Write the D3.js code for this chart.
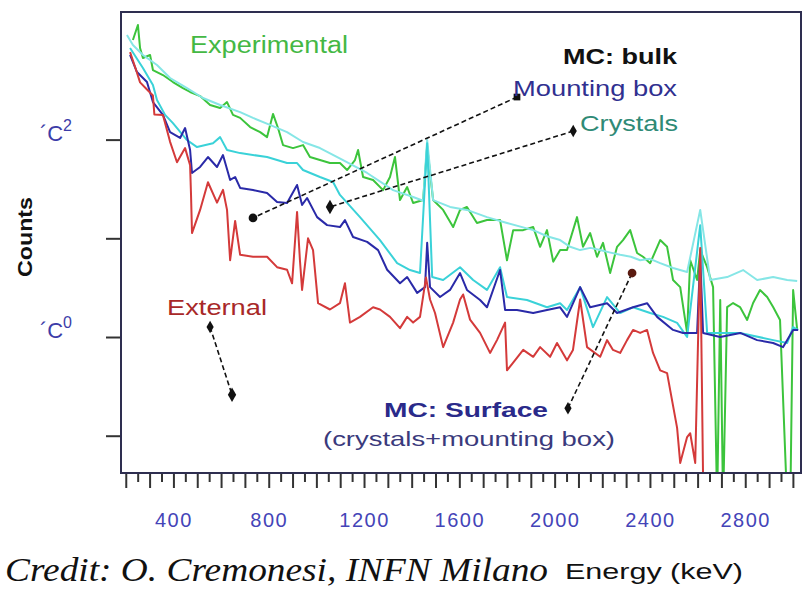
<!DOCTYPE html>
<html>
<head>
<meta charset="utf-8">
<script src="https://cdn.jsdelivr.net/npm/d3@7"></script>
<style>
  body { margin: 0; background: #fff; }
  svg { display: block; font-family: "Liberation Sans", Arial, sans-serif; }
</style>
</head>
<body>
<svg id="chart" width="803" height="590"></svg>
<script>
// energy (keV), counts
const experimental = [[230,1021],[251,1449],[260,847],[272,671],[302,720],[314,507],[356,451],[398,383],[440,333],[470,304],[512,276],[554,224],[596,209],[625,240],[650,178],[680,166],[722,134],[764,119],[793,106],[818,182],[839,131],[860,88],[902,82],[944,88],[973,66.6],[1015,62.1],[1057,57.9],[1099,57.9],[1129,49.2],[1162,62.1],[1175,78.5],[1196,41.8],[1238,39],[1280,30.8],[1309,41.8],[1330,66.6],[1351,24.4],[1381,33.1],[1406,22.8],[1448,24.4],[1465,85],[1490,24.4],[1532,19.4],[1574,13.0],[1603,19.4],[1632,20.8],[1674,14.3],[1716,15.3],[1771,15.3],[1800,6.0],[1826,12.1],[1868,12.1],[1910,13.0],[1939,8.2],[1968,12.1],[1994,5.8],[2023,7.6],[2052,7.6],[2094,16.4],[2119,8.2],[2149,11.3],[2178,6.5],[2203,9.0],[2233,4.45],[2262,8.2],[2287,9.6],[2317,12.1],[2346,7.1],[2371,6.5],[2401,5.6],[2443,9.6],[2472,8.2],[2497,3.78],[2527,3.2],[2556,1.1],[2569,6.0],[2598,3.78],[2611,7.6],[2640,5.1],[2665,3.2],[2682,0.02],[2695,2.37],[2707,0.02],[2724,2.01],[2749,2.21],[2778,2.01],[2808,1.49],[2833,2.21],[2862,2.99],[2892,2.54],[2917,2.01],[2946,1.49],[2976,0.02],[2989,0.02],[3001,2.99],[3018,1.18]];

const mcTotal = [[205,1148],[230,908],[272,720],[331,570],[386,421],[457,333],[524,264],[596,224],[680,190],[734,166],[805,141],[877,119],[944,94.6],[1015,82.2],[1112,62.1],[1213,45.9],[1322,30.8],[1406,26.2],[1448,24],[1465,99],[1490,24.4],[1561,20.8],[1632,19.4],[1716,16.4],[1800,14.3],[1910,12.1],[1968,10.5],[2023,9.6],[2065,8.2],[2107,7.6],[2150,8.0],[2191,7.6],[2230,7.2],[2275,6.8],[2320,6.5],[2359,6.0],[2400,6.2],[2443,5.6],[2497,5.0],[2556,4.56],[2611,19.4],[2653,3.78],[2724,4.05],[2791,4.77],[2850,3.78],[2917,4.05],[2976,3.78],[3018,3.69]];

const crystals = [[218,847],[272,531],[314,357],[331,252],[365,178],[398,147],[457,99],[499,84],[566,92],[596,106],[625,78.5],[680,73],[793,66.6],[877,57.9],[919,57.9],[944,49.2],[1015,41.8],[1070,37.2],[1099,27.5],[1183,16.4],[1267,9.6],[1339,5.6],[1393,4.77],[1435,4.45],[1465,92],[1486,4.05],[1532,3.78],[1603,5.1],[1658,3.78],[1716,3.0],[1771,5.1],[1800,2.54],[1884,2.37],[1968,2.0],[2023,2.2],[2052,1.88],[2107,3.2],[2161,1.26],[2220,2.54],[2275,1.75],[2329,2.0],[2401,1.75],[2455,1.6],[2514,1.39],[2556,1.0],[2611,13.6],[2640,1.1],[2778,1.1],[2917,0.93],[2976,0.87],[3001,1.26],[3022,1.18]];

const mountingBox = [[218,720],[247,484],[289,383],[314,240],[356,178],[386,119],[428,104],[449,131],[470,78.5],[478,45.9],[512,52.8],[545,66.6],[583,52.8],[608,69.8],[638,39.0],[659,41.8],[680,32.4],[734,30.8],[793,28.8],[835,23.3],[877,22.8],[919,34.7],[940,21.8],[961,25.6],[1003,16.4],[1045,13.6],[1099,13.0],[1120,15.3],[1154,10.3],[1213,9.2],[1259,7.6],[1297,4.8],[1351,3.5],[1381,4.05],[1423,2.8],[1456,3.2],[1465,9.0],[1477,3.2],[1519,2.54],[1561,3.0],[1603,4.45],[1632,3.0],[1687,2.37],[1716,2.0],[1771,4.77],[1792,1.88],[1842,1.88],[1910,1.75],[1968,1.88],[2023,2.0],[2052,1.6],[2107,3.2],[2149,2.0],[2220,2.2],[2262,1.75],[2329,2.0],[2388,2.2],[2430,1.6],[2497,1.18],[2539,1.1],[2598,1.1],[2611,6.5],[2623,1.1],[2695,1.0],[2779,1.1],[2850,0.93],[2917,0.87],[2959,0.79],[3001,1.18],[3022,1.18]];

const external = [[218,770],[243,510],[260,380],[285,330],[314,280],[320,180],[356,178],[386,95],[415,59],[449,82],[470,55],[474,27],[478,11.3],[512,19.4],[545,37],[583,23],[608,31],[625,19.4],[638,6.0],[659,15],[680,6.8],[734,6.5],[793,6.5],[835,5.1],[877,4.8],[898,3.5],[919,18.5],[931,6.0],[940,3.0],[965,10],[986,7.6],[1007,2.2],[1057,1.9],[1099,2.2],[1120,3.5],[1141,1.4],[1183,1.6],[1238,2.0],[1267,1.9],[1309,1.6],[1351,1.23],[1381,1.6],[1406,1.4],[1435,1.6],[1460,4.0],[1477,2.4],[1498,1.75],[1532,0.79],[1574,1.4],[1603,2.4],[1616,2.7],[1645,1.5],[1687,1.1],[1729,0.69],[1758,0.93],[1792,1.4],[1800,0.46],[1826,0.55],[1868,0.74],[1910,0.63],[1939,0.79],[1981,0.63],[2010,0.87],[2052,0.58],[2077,0.74],[2107,2.4],[2136,0.79],[2191,0.63],[2220,0.93],[2245,0.74],[2275,0.69],[2304,0.93],[2329,1.18],[2359,1.1],[2388,1.18],[2413,0.69],[2443,0.46],[2472,0.43],[2485,0.29],[2514,0.12],[2527,0.053],[2556,0.097],[2569,0.106],[2590,0.053],[2611,8.0],[2623,0.038],[2640,0.01]];

const xLabels = [400, 800, 1200, 1600, 2000, 2400, 2800];
const yLabels = [{v: 100, sup: '2'}, {v: 1, sup: '0'}];

// annotation pointers: [from, to] in keV / counts
const pointers = [
  {from: [1842, 270], to: [734, 16.1], start: 'square', end: 'circle'},
  {from: [2078, 122], to: [1057, 20.8], start: 'diamond', end: 'diamond'},
  {from: [554, 1.26], to: [646, 0.26], start: 'diamond', end: 'diamond'},
  {from: [2056, 0.19], to: [2325, 4.45], start: 'diamond', end: 'circle', endColor: '#5a1a10'}
];

const svg = d3.select('#chart');
const width = 803, height = 590;
const margin = {top: 12, right: 2, bottom: 117, left: 121};
const innerW = width - margin.left - margin.right;
const innerH = height - margin.top - margin.bottom;

const x = d3.scaleLinear().domain([180, 3034]).range([0, innerW]);
const y = d3.scaleLog().domain([0.0419, 1963]).range([innerH, 0]);

const g = svg.append('g').attr('transform', `translate(${margin.left},${margin.top})`);

svg.append('defs').append('clipPath').attr('id', 'plot')
  .append('rect').attr('width', innerW).attr('height', innerH);

// ticks
const minorTicks = d3.range(250, 3001, 100);
const majorTicks = d3.range(200, 3001, 100);

const xMinor = g.append('g')
  .attr('transform', `translate(0,${innerH})`)
  .call(d3.axisBottom(x).tickValues(minorTicks).tickSize(9).tickFormat(''));
const xMajor = g.append('g')
  .attr('transform', `translate(0,${innerH})`)
  .call(d3.axisBottom(x).tickValues(majorTicks).tickSize(15).tickPadding(25)
    .tickFormat(d => xLabels.includes(d) ? d : ''));
const yAxis = g.append('g')
  .call(d3.axisLeft(y).tickValues([0.1, 1, 10, 100]).tickSize(15).tickFormat(''));

[xMinor, xMajor, yAxis].forEach(a => {
  a.select('.domain').remove();
  a.selectAll('line').attr('stroke', '#333').attr('stroke-width', 2);
});
xMajor.selectAll('text')
  .attr('fill', '#4444b8')
  .attr('font-size', 20)
  .attr('letter-spacing', 1.5)
  .attr('font-family', '"Liberation Sans", Arial, sans-serif');

// y labels
yLabels.forEach(d => {
  const t = svg.append('text')
    .attr('x', 72).attr('y', margin.top + y(d.v) + 1)
    .attr('text-anchor', 'end')
    .attr('fill', '#3c3ca8')
    .attr('font-size', 22);
  t.append('tspan').text('´C');
  t.append('tspan').attr('dy', -10).attr('font-size', 16).text(d.sup);
});

// series
const line = d3.line().x(d => x(d[0])).y(d => y(d[1]));
const series = [
  {data: experimental, color: '#3cc43c'},
  {data: mcTotal, color: '#86e6e6'},
  {data: crystals, color: '#3ad2d8'},
  {data: mountingBox, color: '#2a2aa8'},
  {data: external, color: '#d43a3a'}
];
const lines = g.append('g').attr('clip-path', 'url(#plot)');
lines.selectAll('path')
  .data(series)
  .join('path')
  .attr('d', d => line(d.data))
  .attr('fill', 'none')
  .attr('stroke', d => d.color)
  .attr('stroke-width', 2)
  .attr('stroke-linejoin', 'round');

// frame
g.append('rect')
  .attr('width', innerW).attr('height', innerH)
  .attr('fill', 'none').attr('stroke', '#2e2e50').attr('stroke-width', 2);

// pointers
const symbolType = {square: d3.symbolSquare, circle: d3.symbolCircle, diamond: d3.symbolDiamond};
pointers.forEach(p => {
  g.append('line')
    .attr('x1', x(p.from[0])).attr('y1', y(p.from[1]))
    .attr('x2', x(p.to[0])).attr('y2', y(p.to[1]))
    .attr('stroke', '#111').attr('stroke-width', 1.6).attr('stroke-dasharray', '5,3');
  g.append('path')
    .attr('d', d3.symbol(symbolType[p.start], 45)())
    .attr('transform', `translate(${x(p.from[0])},${y(p.from[1])})`)
    .attr('fill', '#111');
  g.append('path')
    .attr('d', d3.symbol(symbolType[p.end], 60)())
    .attr('transform', `translate(${x(p.to[0])},${y(p.to[1])})`)
    .attr('fill', p.endColor || '#111');
});

// texts
const labels = [
  {t: 'Experimental', x: 190, y: 53, w: 158, size: 23, color: '#44b844'},
  {t: 'MC: bulk', x: 563, y: 64, w: 114, size: 22, color: '#111', bold: true},
  {t: 'Mounting box', x: 513, y: 96, w: 164, size: 22, color: '#303090'},
  {t: 'Crystals', x: 580, y: 131, w: 98, size: 22, color: '#2f8a76'},
  {t: 'External', x: 167, y: 315, w: 100, size: 22, color: '#a82828'},
  {t: 'MC: Surface', x: 384, y: 417, w: 164, size: 21, color: '#2a2a8a', bold: true},
  {t: '(crystals+mounting box)', x: 323, y: 446, w: 292, size: 21, color: '#3a3a7c'},
  {t: 'Energy (keV)', x: 565, y: 579, w: 178, size: 22, color: '#111'}
];
labels.forEach(l => {
  svg.append('text')
    .attr('x', l.x).attr('y', l.y)
    .attr('font-size', l.size)
    .attr('font-weight', l.bold ? 'bold' : 'normal')
    .attr('fill', l.color)
    .attr('textLength', l.w)
    .attr('lengthAdjust', 'spacingAndGlyphs')
    .text(l.t);
});

svg.append('text')
  .attr('transform', 'translate(32,237) rotate(-90)')
  .attr('text-anchor', 'middle')
  .attr('font-size', 21).attr('font-weight', 'bold').attr('fill', '#111')
  .attr('textLength', 80).attr('lengthAdjust', 'spacingAndGlyphs')
  .text('Counts');

svg.append('text')
  .attr('x', 5).attr('y', 581)
  .attr('font-family', '"Liberation Serif", "Times New Roman", serif')
  .attr('font-style', 'italic')
  .attr('font-size', 33).attr('fill', '#111')
  .attr('textLength', 543).attr('lengthAdjust', 'spacingAndGlyphs')
  .text('Credit: O. Cremonesi, INFN Milano');
</script>
</body>
</html>
